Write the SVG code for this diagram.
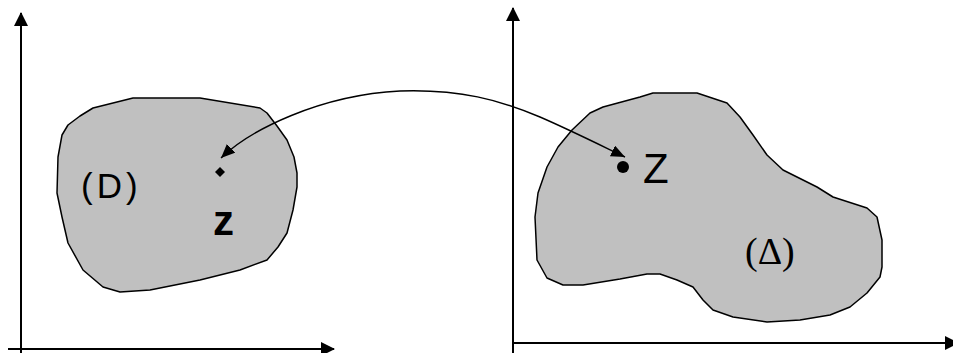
<svg xmlns="http://www.w3.org/2000/svg" width="953" height="353" viewBox="0 0 953 353">
<style>
.axis{stroke:#000;stroke-width:2;fill:none}
.blob{fill:#c0c0c0;stroke:#000;stroke-width:1.5;stroke-linejoin:round}
.conn{stroke:#000;stroke-width:1.4;fill:none}
.sans{font-family:"Liberation Sans",Arial,sans-serif;fill:#000}
.serif{font-family:"Liberation Serif","Times New Roman",serif;fill:#000}
</style>
<defs>
<marker id="axhead" viewBox="0 0 14 14" refX="13" refY="7" markerUnits="userSpaceOnUse" markerWidth="14" markerHeight="14" orient="auto">
<path d="M0,0 L14,7 L0,14 z" fill="#000"/>
</marker>
<marker id="arrow" viewBox="0 0 14 12" refX="14" refY="6" markerUnits="userSpaceOnUse" markerWidth="14" markerHeight="12" orient="auto-start-reverse">
<path d="M0,0 L14,6 L0,12 z" fill="#000"/>
</marker>
</defs>
<rect width="953" height="353" fill="#fff"/>
<g id="axes-left">
<line class="axis" x1="21" y1="353" x2="21" y2="13" marker-end="url(#axhead)"/>
<line class="axis" x1="8" y1="349" x2="334" y2="349" marker-end="url(#axhead)"/>
</g>
<g id="axes-right">
<line class="axis" x1="513" y1="353" x2="513" y2="8" marker-end="url(#axhead)"/>
<line class="axis" x1="513" y1="343" x2="958" y2="343" marker-end="url(#axhead)"/>
</g>
<g id="domain-D">
<polygon class="blob" points="133,98 200,98 260,108 267,113 277,126 287,140 294,157 297,173 297,187 293,210 287,233 278,247 267,260 240,270 200,280 150,290 120,292 103,287 83,270 68,243 62,217 57,193 58,157 62,135 68,125 80,116 93,108"/>
<text class="sans" x="81" y="198" font-size="35" letter-spacing="4">(D)</text>
</g>
<g id="domain-Delta">
<polygon class="blob" points="653,93 697,93 727,103 740,117 753,135 767,155 783,170 817,187 833,197 867,208 877,217 882,240 882,267 880,277 867,293 850,307 830,315 800,320 767,322 733,317 713,310 703,300 693,287 677,280 660,274 647,274 620,279 583,285 563,285 547,278 537,260 535,217 538,193 547,167 558,147 572,130 590,113 603,107 640,97"/>
<text class="serif" x="745" y="264" font-size="38">(Δ)</text>
</g>
<g id="point-z">
<polygon points="220,167 225,172 220,177 215,172" fill="#000"/>
<text class="sans" x="213" y="235" font-size="42" font-weight="bold">z</text>
</g>
<g id="point-Z">
<circle cx="623" cy="167" r="6" fill="#000"/>
<text class="sans" x="643" y="183" font-size="42">Z</text>
</g>
<g id="connectors">
<path class="conn" d="M221,158 C250,130 320,95 400,91 C460,89 500,100 540,117 C570,130 600,145 625,157" marker-start="url(#arrow)" marker-end="url(#arrow)"/>
</g>
</svg>
